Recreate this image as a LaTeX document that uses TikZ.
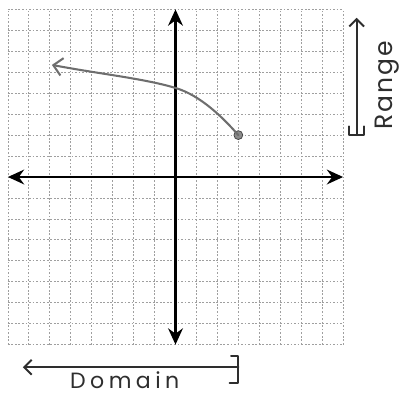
\documentclass[tikz,border=0pt]{standalone}
\usepackage{fontspec}
\setmainfont{Poppins}
\usetikzlibrary{arrows.meta}
\definecolor{curvegray}{HTML}{6E6E6E}
\definecolor{inkgray}{HTML}{2E2E2E}
\begin{document}
\begin{tikzpicture}[x=0.5cm,y=0.5cm,
  gridline/.style={gray!75, line width=0.5pt, dash pattern=on 1.2pt off 1.2pt},
  axis/.style={line width=1.7pt, black, {Stealth[length=11pt,width=10pt]}-{Stealth[length=11pt,width=10pt]}},
  curveline/.style={curvegray, line width=1.4pt, line cap=round, line join=round},
  handline/.style={inkgray, line width=1.3pt, line cap=round, line join=round},
  enddot/.style={circle, fill=curvegray!80, draw=curvegray!60!black, line width=0.5pt, minimum size=6pt, inner sep=0pt},
  lbl/.style={inner sep=0pt, text=inkgray}]
\useasboundingbox (-8.377,-10.453) rectangle (10.859,8.449);
% grid
\draw[gridline, step=1] (-8,-8) grid (8,8);
% axes
\coordinate (xl) at (-8,0);
\coordinate (xr) at (8,0);
\coordinate (yb) at (0,-8);
\coordinate (yt) at (0,8);
\draw[axis] (xl) -- (xr);
\draw[axis] (yb) -- (yt);
% curve
\node[enddot] (endpt) at (3,2) {};
\coordinate (cmid) at (0,4.25);
\coordinate (ctip) at (-5.9,5.35);
\draw[curveline, -{Straight Barb[length=6pt,width=12pt,line width=1.4pt]}]
  (endpt.center) .. controls (2.3,2.8) and (1.2,3.9) .. (cmid)
  .. controls (-1.5,4.7) and (-3.5,4.9) .. (ctip);
% range marker
\coordinate (rb) at (8.65,2);
\coordinate (rt) at (8.65,7.6);
\coordinate (rbl) at (8.28,2);
\coordinate (rbr) at (8.99,2);
\draw[handline, -{Straight Barb[length=5pt,width=10pt,line width=1.3pt]}] (rb) -- (rt);
\draw[handline] ([yshift=6pt]rbl) -- (rbl) -- (rbr) -- ([yshift=6pt]rbr);
\node[lbl, rotate=90, anchor=base west, font=\fontsize{17}{17}\selectfont\addfontfeatures{LetterSpace=8}] (range) at (10.34,2.24) {Range};
% domain marker
\coordinate (dl) at (-7.28,-9.08);
\coordinate (dr) at (3,-9.08);
\coordinate (dtop) at (3,-8.54);
\coordinate (dbot) at (3,-9.85);
\draw[handline, -{Straight Barb[length=5pt,width=10pt,line width=1.3pt]}] (dr) -- (dl);
\draw[handline] ([xshift=-5pt]dtop) -- (dtop) -- (dbot) -- ([xshift=-6pt]dbot);
\node[lbl, anchor=base west, font=\fontsize{15}{15}\selectfont\addfontfeatures{LetterSpace=20}] (domain) at (-5.04,-10.08) {Domain};
\end{tikzpicture}
\end{document}
